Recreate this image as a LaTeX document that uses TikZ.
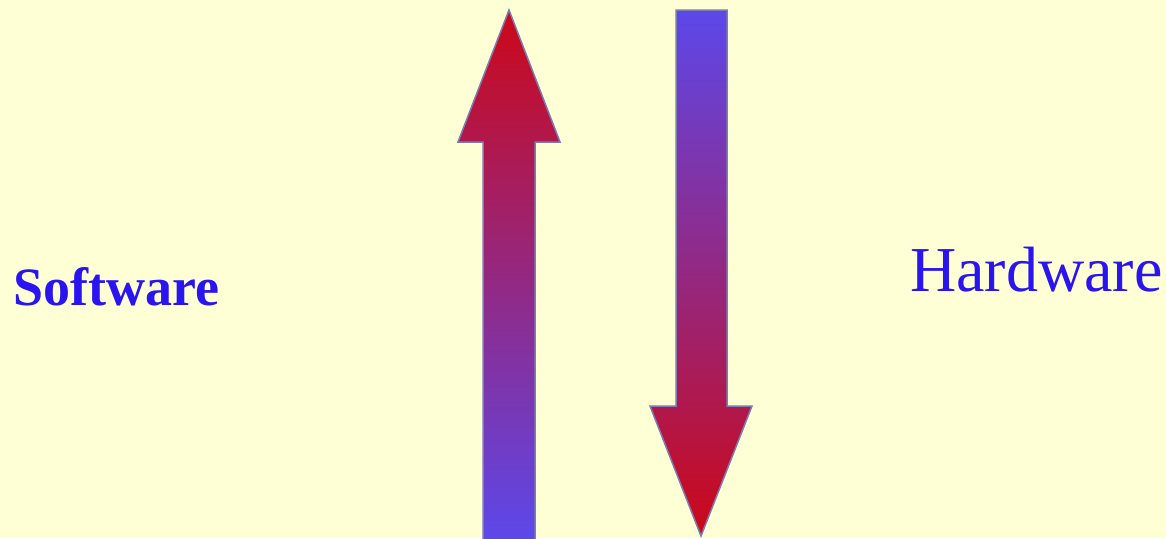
\documentclass[tikz,border=0pt]{standalone}
\usepackage{fontspec}
\setmainfont{Liberation Serif}
\definecolor{bg}{HTML}{FFFFD6}
\definecolor{txtblue}{HTML}{2A14F0}
\definecolor{arrred}{HTML}{CC0818}
\definecolor{arrblue}{HTML}{5C48EA}
\definecolor{edge}{HTML}{7C7CB0}
\tikzset{
  bigarrow/.style={draw=edge, line width=1.5pt, line join=miter},
  label/.style={inner sep=0pt, anchor=base west, text=txtblue}
}
\begin{document}
\begin{tikzpicture}[x=1pt,y=-1pt]
\fill[bg] (0,0) rectangle (1166,538);
\useasboundingbox (0,0) rectangle (1166,538);
\begin{scope}
\clip (0,0) rectangle (1166,538);
% up arrow
\path[bigarrow, top color=arrred, bottom color=arrblue]
  (483,540) -- (483,142) -- (458,142) -- (509,10) -- (560,142) -- (535,142) -- (535,540) -- cycle;
% down arrow
\path[bigarrow, top color=arrblue, bottom color=arrred]
  (676,10) -- (727,10) -- (727,406) -- (752,406) -- (701,536) -- (650,406) -- (676,406) -- cycle;
\end{scope}
\node[label, font=\fontsize{54}{60}\selectfont\bfseries] (sw) at (13,305) {Software};
\node[label, font=\fontsize{64}{72}\selectfont] (hw) at (910,291) {Hardware};
\end{tikzpicture}
\end{document}
